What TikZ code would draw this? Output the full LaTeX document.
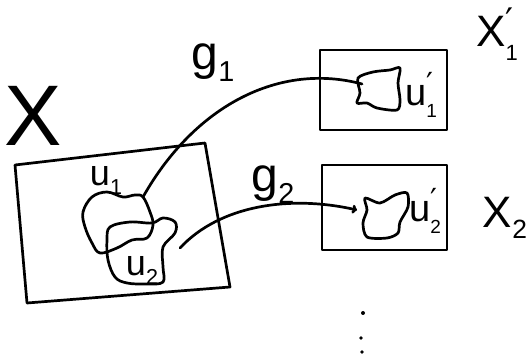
\documentclass[tikz,border=0pt]{standalone}
\usepackage{fontspec}
\usepackage{graphicx}
\setmainfont{Liberation Sans}
\newfontfamily\primefont{DejaVu Sans}
\usetikzlibrary{arrows.meta}
\tikzset{
  pen/.style={line width=2.7pt, line cap=round, line join=round, black},
  blob/.style={pen},
  lbl/.style={inner sep=0pt, outer sep=0pt},
}
\newcommand{\fs}[1]{\fontsize{#1}{#1}\selectfont}
\newcommand{\ssub}[2]{#1\raisebox{-0.25em}{\scalebox{0.6}{#2}}}
\newcommand{\psub}[2]{#1\makebox[0pt][l]{\raisebox{0.3em}{\scalebox{0.8}{\primefont ′}}}\raisebox{-0.32em}{\scalebox{0.5}{#2}}}
\begin{document}
\begin{tikzpicture}[x=1pt,y=-1pt]
\useasboundingbox (0,0) rectangle (528,358);
% big set X
\draw[pen] (15,165) coordinate (bx1) -- (205,143) -- (230,287) -- (27,303) -- cycle;
\node[lbl] (X) at (33,116) {\fs{86}X};
% blob U1
\draw[blob] plot[smooth cycle, tension=0.6] coordinates {
 (143,197) (150,212) (153,225) (147,238) (132,240) (117,248) (100,253)
 (92,243) (85,227) (83,212) (92,197) (107,192) (123,197) (135,195)};
% blob U2
\draw[blob] plot[smooth cycle, tension=0.6] coordinates {
 (110,227) (130,222) (152,223) (163,218) (175,222) (175,233) (163,247)
 (163,267) (163,282) (147,284) (127,283) (115,277) (108,260) (107,240)};
\node[lbl] (u1) at (106,180) {\fs{36}\ssub{u}{1}};
\node[lbl] (u2) at (142,270) {\fs{36}\ssub{u}{2}};
% box X1'
\node[pen, draw, minimum width=127pt, minimum height=80pt, inner sep=0pt] (B1) at (383.5,90) {};
\draw[blob] plot[smooth cycle, tension=0.5] coordinates {
 (358,78) (373,72) (390,70) (400,68) (398,83) (400,100) (397,110)
 (377,108) (367,103) (357,103) (360,93)};
\node[lbl] (u1p) at (421,95) {\fs{38}\psub{u}{1}};
\node[lbl] (X1p) at (497,34) {\fs{44}\psub{X}{1}};
% box X2
\node[pen, draw, minimum width=125pt, minimum height=85pt, inner sep=0pt] (B2) at (384.5,207.5) {};
\draw[blob] plot[smooth cycle, tension=0.5] coordinates {
 (365,198) (380,203) (395,195) (407,193) (408,207) (400,222) (398,233)
 (387,238) (367,237) (363,223) (367,210)};
\node[lbl] (u2p) at (425,211) {\fs{38}\psub{u}{2}};
\node[lbl] (X2) at (505,218) {\fs{44}\ssub{X}{2}};
% maps
\coordinate (a1) at (143,197);
\coordinate (b1) at (362,84);
\draw[pen] (a1) .. controls (195,105) and (280,62) .. (b1);
\node[lbl] (g1) at (213,63) {\fs{48}\ssub{g}{1}};
\coordinate (a2) at (180,248);
\coordinate (b2) at (357,210);
\draw[pen, -{To[length=5pt,width=9pt]}] (a2) .. controls (220,205) and (290,195) .. (b2);
\node[lbl] (g2) at (273,185) {\fs{48}\ssub{g}{2}};
% dots
\fill (363,313) circle (2pt);
\fill (361,338) circle (1.8pt);
\fill (362,352) circle (1.8pt);
\end{tikzpicture}
\end{document}
